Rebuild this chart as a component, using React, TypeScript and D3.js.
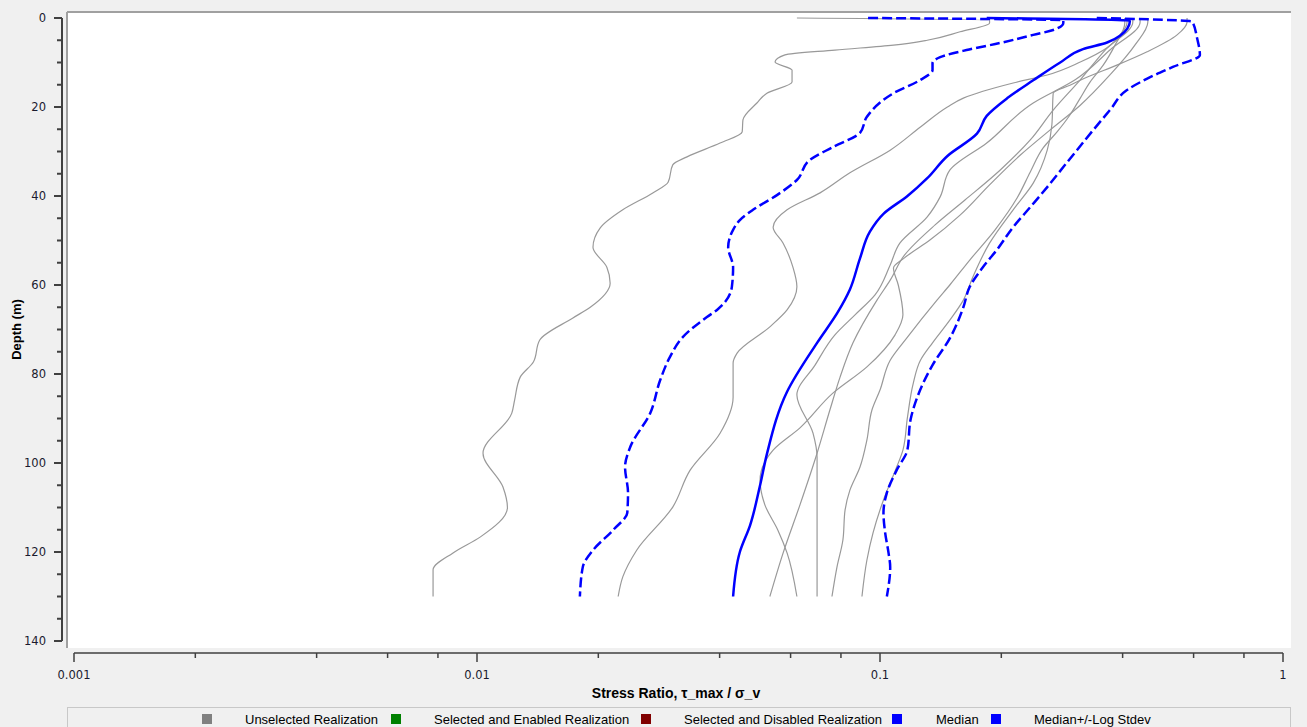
import * as d3 from "d3";

// each realization: [depth (m), stress ratio]
const realization1: [number, number][] = [
  [0, 0.0622], [0.5, 0.187], [1.1, 0.187], [3.1, 0.158], [5, 0.131], [6.1, 0.108], [7.2, 0.0773],
  [8.3, 0.0581], [9.9, 0.0549], [11.7, 0.0605], [14.4, 0.0605], [16.9, 0.0524], [19.1, 0.0495],
  [22.9, 0.0457], [25.6, 0.0455], [28.1, 0.0401], [31.2, 0.0332], [33, 0.0306], [36.9, 0.0298],
  [39.3, 0.0273], [43.1, 0.023], [47.2, 0.0202], [51.5, 0.0194], [56, 0.021], [59.6, 0.0214],
  [65, 0.0191], [67.4, 0.0173], [72.4, 0.0143], [77.3, 0.0138], [80.7, 0.0128], [85.8, 0.0124],
  [88.8, 0.0122], [97.8, 0.01035], [105.4, 0.0116], [110, 0.0119], [116.6, 0.0102], [120.2, 0.00872],
  [124, 0.00778], [130, 0.00778],
];
const realization2: [number, number][] = [
  [0, 0.41], [1.1, 0.41], [3.8, 0.394], [6.7, 0.366], [9.9, 0.314], [12.8, 0.26], [14.6, 0.214],
  [18, 0.161], [20, 0.147], [24.5, 0.126], [29.7, 0.106], [34.8, 0.0842], [39.3, 0.071], [43.1, 0.0588],
  [47, 0.0543], [50.6, 0.0575], [56, 0.0608], [60.4, 0.0622], [65.6, 0.0588], [69.4, 0.0533],
  [75.3, 0.0442], [77.5, 0.0432], [85.2, 0.0432], [93.3, 0.0401], [101.6, 0.0338], [109.9, 0.0306],
  [119.6, 0.0249], [125.6, 0.023], [130, 0.0224],
];
const realization3: [number, number][] = [
  [0, 0.578], [0.9, 0.578], [3.8, 0.546], [7.6, 0.46], [10.6, 0.387], [13.3, 0.326], [15.1, 0.296],
  [16.9, 0.269], [24, 0.267], [29.7, 0.26], [37.1, 0.24], [43.1, 0.214], [50.6, 0.187], [58.2, 0.17],
  [63.4, 0.161], [67.9, 0.149], [73, 0.135], [76.9, 0.126], [82, 0.121], [89.7, 0.117], [97.1, 0.114],
  [100.9, 0.11], [108.3, 0.102], [115.7, 0.0961], [121.8, 0.0928], [130, 0.0902],
];
const realization4: [number, number][] = [
  [0, 0.405], [1.1, 0.405], [6.1, 0.383], [10.6, 0.358], [14.4, 0.332], [18, 0.314], [21.8, 0.296],
  [25.6, 0.275], [29.2, 0.254], [34.6, 0.236], [40.4, 0.219], [47.6, 0.193], [54.4, 0.167], [60, 0.149],
  [63.4, 0.1385], [71.7, 0.117], [76.9, 0.106], [83.6, 0.1], [88.1, 0.0955], [94.8, 0.0928],
  [100.9, 0.0892], [106.1, 0.0842], [110.6, 0.0819], [117.3, 0.0809], [123.4, 0.0782], [130, 0.076],
];
const realization5: [number, number][] = [
  [0, 0.462], [0.9, 0.462], [6.1, 0.429], [12.8, 0.372], [19.6, 0.314], [25.2, 0.264], [30.8, 0.223],
  [37.5, 0.187], [44.3, 0.158], [49.9, 0.133], [53.9, 0.115], [56.2, 0.108], [60, 0.111], [66.7, 0.114],
  [71.2, 0.109], [78.4, 0.0928], [84.3, 0.0764], [92.1, 0.0633], [97.1, 0.0543], [103.8, 0.0504],
  [109.4, 0.0518], [115.1, 0.0558], [120.2, 0.0588], [130, 0.0622],
];
const realization6: [number, number][] = [
  [0, 0.442], [0.9, 0.442], [7.2, 0.372], [13.9, 0.305], [19.1, 0.24], [28.1, 0.184], [34.2, 0.149],
  [40.2, 0.141], [44.7, 0.131], [50.6, 0.112], [55.5, 0.106], [62.2, 0.0972], [66.7, 0.0867],
  [71.2, 0.0773], [78, 0.069], [84.7, 0.0622], [93.3, 0.0682], [98.7, 0.0698], [110.6, 0.0698],
  [130, 0.0698],
];
const realization7: [number, number][] = [
  [0, 0.424], [0.9, 0.424], [7.2, 0.362], [13.9, 0.314], [20.7, 0.269], [27.4, 0.236], [34.2, 0.1985],
  [40.9, 0.1625], [46.5, 0.137], [53.3, 0.115], [58.9, 0.106], [63.4, 0.0983], [73, 0.0857],
  [80.7, 0.0796], [88.1, 0.0751], [97.8, 0.0698], [109.4, 0.0633], [120.2, 0.0575], [130, 0.0533],
];

const median: [number, number][] = [
  [0, 0.184], [0.6, 0.417], [4, 0.394], [5.5, 0.366], [7, 0.319], [10, 0.28], [14, 0.24], [18, 0.207],
  [22, 0.184], [26, 0.174], [31, 0.147], [36, 0.131], [40, 0.117], [44, 0.102], [48, 0.0944],
  [54, 0.0892], [61, 0.0842], [66, 0.0787], [73, 0.0698], [84, 0.0588], [98, 0.0524], [105, 0.0504],
  [114, 0.0476], [120, 0.0449], [130, 0.0432],
];
const medianMinus: [number, number][] = [
  [0, 0.0934], [0.5, 0.285], [1.1, 0.285], [2.7, 0.269], [3.8, 0.24], [5.6, 0.199], [7.2, 0.164],
  [8.8, 0.141], [10.1, 0.135], [11.7, 0.135], [13.9, 0.126], [16.9, 0.108], [22.2, 0.0928],
  [25.8, 0.0892], [29, 0.0764], [31.9, 0.067], [36.4, 0.0622], [39.8, 0.0555], [43.1, 0.0484],
  [45.4, 0.0449], [47.6, 0.0432], [51.5, 0.042], [56, 0.0432], [60.4, 0.0429], [65.6, 0.0394],
  [67.2, 0.0372], [71.7, 0.0324], [76.2, 0.0301], [81.3, 0.0285], [88.8, 0.0269], [96.4, 0.024],
  [100.9, 0.0233], [106.7, 0.0237], [111.2, 0.0236], [115, 0.0218], [119.6, 0.0194], [123.4, 0.0183],
  [130, 0.018],
];
const medianPlus: [number, number][] = [
  [0, 0.345], [0.8, 0.595], [4.5, 0.612], [8.3, 0.622], [11, 0.533], [13.3, 0.468], [16.2, 0.41],
  [20.7, 0.372], [25.2, 0.338], [29.7, 0.308], [33.5, 0.285], [38, 0.26], [42.5, 0.236], [47, 0.214],
  [52.1, 0.195], [56, 0.18], [60.4, 0.167], [65, 0.161], [72, 0.149], [78, 0.135], [85, 0.124],
  [90.4, 0.119], [97, 0.117], [101.6, 0.11], [106.7, 0.104], [111.2, 0.102], [115.7, 0.103],
  [120.2, 0.105], [123.4, 0.106], [130, 0.104],
];

const realizations = [realization1, realization2, realization3, realization4, realization5, realization6, realization7];

const xMajorTicks = [0.001, 0.01, 0.1, 1];
const xTickLabels = ["0.001", "0.01", "0.1", "1"];
const depthTicks = [0, 20, 40, 60, 80, 100, 120, 140];

const legendLabels = [
  "Unselected Realization",
  "Selected and Enabled Realization",
  "Selected and Disabled Realization",
  "Median",
  "Median+/-Log Stdev",
];
const legendColors = ["#808080", "#008000", "#800000", "#0000ff", "#0000ff"];

const W = 1307;
const H = 727;
const FONT = "'Liberation Sans', Arial, sans-serif";
const TICK_FONT = "'DejaVu Sans', Verdana, sans-serif";

const App = () => {
  // 描画領域
  const x = d3.scaleLog().domain([0.001, 1]).range([74, 1283]);
  const y = d3.scaleLinear().domain([0, 140]).range([18, 641]);

  const line = d3.line<[number, number]>()
    .x(d => x(d[1]))
    .y(d => y(d[0]))
    .curve(d3.curveMonotoneY);

  // minor ticks at 2,4,6,8 per decade
  const xMinor = x.ticks().filter(t => {
    const m = Math.round(t / Math.pow(10, Math.floor(Math.log10(t) + 1e-9)));
    return m % 2 === 0;
  });
  const yMinor = d3.range(0, 141, 5).filter(d => d % 20 !== 0);

  const legendSquareX = [202, 391, 641, 892, 991];
  const legendTextX = [245, 434, 684, 936, 1034];

  return (
    <svg width={W} height={H} style={{position: "absolute", left: 0, top: 0}} fontFamily={FONT}>
      <rect x={0} y={0} width={W} height={H} fill="#f0f0f0"/>
      {/* plot area */}
      <rect x={67} y={12} width={1224} height={636} fill="#fff"/>
      <line x1={67} x2={1291} y1={12} y2={12} stroke="#a0a0a0" strokeWidth={2}/>
      <line x1={67} x2={67} y1={12} y2={648} stroke="#a0a0a0" strokeWidth={2}/>

      {/* realizations */}
      {realizations.map((r, i) => (
        <path key={i} d={line(r) ?? ""} fill="none" stroke="#999" strokeWidth={1.2}/>
      ))}
      <path d={line(medianMinus) ?? ""} fill="none" stroke="#0000ff" strokeWidth={2.5} strokeDasharray="10,4"/>
      <path d={line(medianPlus) ?? ""} fill="none" stroke="#0000ff" strokeWidth={2.5} strokeDasharray="10,4"/>
      <path d={line(median) ?? ""} fill="none" stroke="#0000ff" strokeWidth={2.5}/>

      {/* y axis */}
      <line x1={62} x2={62} y1={y(0)} y2={y(140)} stroke="#404040" strokeWidth={2}/>
      {depthTicks.map(d => (
        <g key={d}>
          <line x1={54} x2={62} y1={y(d)} y2={y(d)} stroke="#404040" strokeWidth={2}/>
          <text x={46} y={y(d)} dy="0.35em" textAnchor="end" fontSize={11.5} fontFamily={TICK_FONT} fill="#1a1a2e">{d}</text>
        </g>
      ))}
      {yMinor.map(d => (
        <line key={d} x1={57} x2={62} y1={y(d)} y2={y(d)} stroke="#404040" strokeWidth={2}/>
      ))}
      <text transform={`translate(16,${(y(0) + y(140)) / 2}) rotate(-90)`} textAnchor="middle"
            dy="0.35em" fontSize={13} fontWeight="bold" fill="#000">Depth (m)</text>

      {/* x axis */}
      <line x1={x(0.001)} x2={x(1)} y1={653} y2={653} stroke="#404040" strokeWidth={1.5}/>
      {xMinor.map(t => (
        <line key={t} x1={x(t)} x2={x(t)} y1={653} y2={658} stroke="#404040" strokeWidth={1.5}/>
      ))}
      {xMajorTicks.map((t, i) => (
        <g key={t}>
          <line x1={x(t)} x2={x(t)} y1={653} y2={662} stroke="#404040" strokeWidth={1.5}/>
          <text x={x(t)} y={675} dy="0.35em" textAnchor="middle" fontSize={11.5} fontFamily={TICK_FONT} fill="#1a1a2e">{xTickLabels[i]}</text>
        </g>
      ))}
      <text x={676} y={693} dy="0.35em" textAnchor="middle" fontSize={14} fontWeight="bold" fill="#000">
        Stress Ratio, τ_max / σ_v
      </text>

      {/* legend */}
      <rect x={67.5} y={707.5} width={1223} height={40} fill="#f0f0f0" stroke="#c8c8c8"/>
      {legendLabels.map((label, i) => (
        <g key={label}>
          <rect x={legendSquareX[i]} y={714} width={10} height={10} fill={legendColors[i]}/>
          <text x={legendTextX[i]} y={719} dy="0.35em" fontSize={13} fill="#000">{label}</text>
        </g>
      ))}
    </svg>
  );
};

export default App;
